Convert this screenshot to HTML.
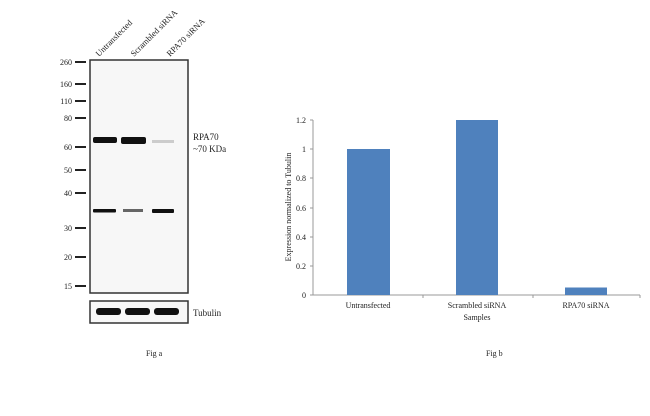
<!DOCTYPE html><html><head><style>body{margin:0;background:#fff}svg{display:block;font-family:"Liberation Serif",serif}</style></head><body>
<svg width="650" height="416" viewBox="0 0 650 416" font-size="8" fill="#222">
<g font-size="8.5">
<text transform="translate(99,57) rotate(-45)">Untransfected</text>
<text transform="translate(134,57) rotate(-45)">Scrambled siRNA</text>
<text transform="translate(170,57) rotate(-45)">RPA70 siRNA</text>
</g>
<rect x="90" y="60" width="98" height="233" fill="#f7f7f7" stroke="#333" stroke-width="1.5"/>
<rect x="90" y="301" width="98" height="22" fill="#f7f7f7" stroke="#333" stroke-width="1.5"/>
<g stroke="#222" stroke-width="2">
<line x1="75" y1="62" x2="86" y2="62"/><line x1="75" y1="84" x2="86" y2="84"/><line x1="75" y1="101" x2="86" y2="101"/><line x1="75" y1="118" x2="86" y2="118"/><line x1="75" y1="147" x2="86" y2="147"/><line x1="75" y1="170" x2="86" y2="170"/><line x1="75" y1="193" x2="86" y2="193"/><line x1="75" y1="228" x2="86" y2="228"/><line x1="75" y1="257" x2="86" y2="257"/><line x1="75" y1="286" x2="86" y2="286"/>
</g>
<g text-anchor="end">
<text x="72" y="65">260</text><text x="72" y="87">160</text><text x="72" y="104">110</text><text x="72" y="121">80</text><text x="72" y="150">60</text><text x="72" y="173">50</text><text x="72" y="196">40</text><text x="72" y="231">30</text><text x="72" y="260">20</text><text x="72" y="289">15</text>
</g>
<g fill="#111">
<rect x="93" y="137" width="24" height="6" rx="2"/>
<rect x="121" y="137" width="25" height="7" rx="2"/>
<rect x="152" y="140" width="22" height="3" fill="#ccc"/>
<rect x="93" y="209" width="23" height="3.5" rx="1"/>
<rect x="123" y="209" width="20" height="3" fill="#666"/>
<rect x="152" y="209" width="22" height="4" rx="1"/>
<rect x="96" y="308" width="25" height="7" rx="3"/>
<rect x="125" y="308" width="25" height="7" rx="3"/>
<rect x="154" y="308" width="25" height="7" rx="3"/>
</g>
<text x="193" y="140" font-size="9">RPA70</text>
<text x="193" y="152" font-size="9">~70 KDa</text>
<text x="193" y="316" font-size="9">Tubulin</text>
<text x="146" y="356" font-size="8">Fig a</text>
<text x="486" y="356" font-size="8">Fig b</text>
<g stroke="#999" stroke-width="1">
<line x1="313" y1="120" x2="313" y2="295"/><line x1="313" y1="295" x2="640" y2="295"/>
<line x1="310" y1="120" x2="313" y2="120"/><line x1="310" y1="149" x2="313" y2="149"/><line x1="310" y1="178" x2="313" y2="178"/><line x1="310" y1="208" x2="313" y2="208"/><line x1="310" y1="237" x2="313" y2="237"/><line x1="310" y1="266" x2="313" y2="266"/><line x1="310" y1="295" x2="313" y2="295"/>
<line x1="423" y1="295" x2="423" y2="298"/><line x1="533" y1="295" x2="533" y2="298"/><line x1="640" y1="295" x2="640" y2="298"/>
</g>
<g fill="#4f81bd">
<rect x="347" y="149" width="43" height="146"/>
<rect x="456" y="120" width="42" height="175"/>
<rect x="565" y="287.5" width="42" height="7.5"/>
</g>
<g text-anchor="end" font-size="8">
<text x="306" y="123">1.2</text><text x="306" y="152">1</text><text x="306" y="181">0.8</text><text x="306" y="211">0.6</text><text x="306" y="240">0.4</text><text x="306" y="269">0.2</text><text x="306" y="298">0</text>
</g>
<g text-anchor="middle" font-size="8">
<text x="368" y="308">Untransfected</text><text x="477" y="308">Scrambled siRNA</text><text x="586" y="308">RPA70 siRNA</text>
<text x="477" y="320">Samples</text>
<text transform="translate(291,207) rotate(-90)">Expression normalized to Tubulin</text>
</g>
</svg></body></html>
